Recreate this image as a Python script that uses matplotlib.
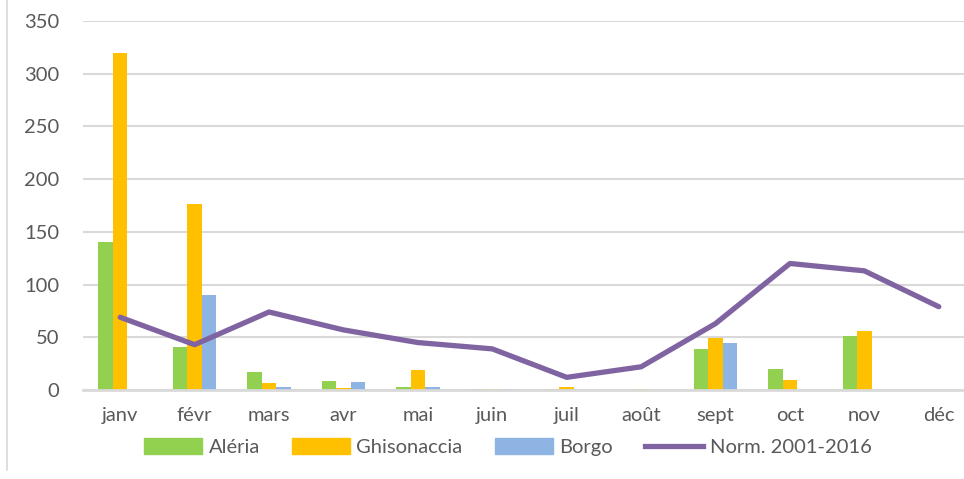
import matplotlib
matplotlib.use("Agg")
import matplotlib.pyplot as plt
from matplotlib.lines import Line2D
import numpy as np

plt.rcParams["font.family"] = ["Lato", "DejaVu Sans"]

months = ["janv", "févr", "mars", "avr", "mai", "juin",
          "juil", "août", "sept", "oct", "nov", "déc"]
aleria = [140, 41, 17, 9, 2.5, 1.2, 0.5, 0, 39, 20, 51, 0]
ghisonaccia = [320, 176, 6.5, 2, 19, 1.2, 3, 1, 49, 9.5, 56, 0]
borgo = [0, 90, 2.5, 8, 2.5, 1.2, 0, 0, 45, 0, 0, 0]
norm = [69, 43, 74, 57, 45, 39, 12, 22, 63, 120, 113, 79]

C_ALERIA = "#92D050"
C_GHIS = "#FFC000"
C_BORGO = "#8EB4E3"
C_NORM = "#8064A2"
TXT = "#595959"
GRID = "#D9D9D9"

fig = plt.figure(figsize=(9.64, 4.79), dpi=100)
ax = fig.add_axes([83 / 964, 1 - 390 / 479, 893 / 964, 369 / 479])

x = np.arange(len(months))
w = 0.195
ax.bar(x - w, aleria, w, color=C_ALERIA, label="Aléria", zorder=2)
ax.bar(x, ghisonaccia, w, color=C_GHIS, label="Ghisonaccia", zorder=2)
ax.bar(x + w, borgo, w, color=C_BORGO, label="Borgo", zorder=2)
ax.plot(x, norm, color=C_NORM, lw=3.8, solid_capstyle="round",
        label="Norm. 2001-2016", zorder=3)

ax.set_xlim(-0.5, len(months) - 0.5)
ax.set_ylim(0, 350)
ax.set_yticks(range(0, 351, 50))
ax.set_xticks(x)
ax.set_xticklabels(months)
ax.tick_params(axis="both", length=0, colors=TXT, labelsize=14.5)
ax.tick_params(axis="x", pad=12)
ax.tick_params(axis="y", pad=17)
ax.grid(axis="y", color=GRID, lw=1.5, zorder=0)
for s in ["top", "right", "left"]:
    ax.spines[s].set_visible(False)
ax.spines["bottom"].set_color(GRID)
ax.spines["bottom"].set_linewidth(2)

handles = [plt.Rectangle((0, 0), 1, 1, color=C_ALERIA),
           plt.Rectangle((0, 0), 1, 1, color=C_GHIS),
           plt.Rectangle((0, 0), 1, 1, color=C_BORGO),
           Line2D([0], [0], color=C_NORM, lw=3.8)]
labels = ["Aléria", "Ghisonaccia", "Borgo", "Norm. 2001-2016"]
leg = fig.legend(handles, labels, ncol=4, frameon=False,
                 loc="center left", bbox_to_anchor=(136 / 964, 1 - 447 / 479),
                 fontsize=14.5, handlelength=2.9, handleheight=0.8,
                 handletextpad=0.3, columnspacing=1.6, borderaxespad=0)
for t in leg.get_texts():
    t.set_color(TXT)

# left border of the chart frame
fig.add_artist(Line2D([7 / 964, 7 / 964], [1 - 470 / 479, 1], color=GRID, lw=1.2))

fig.savefig("out.png", dpi=100)
